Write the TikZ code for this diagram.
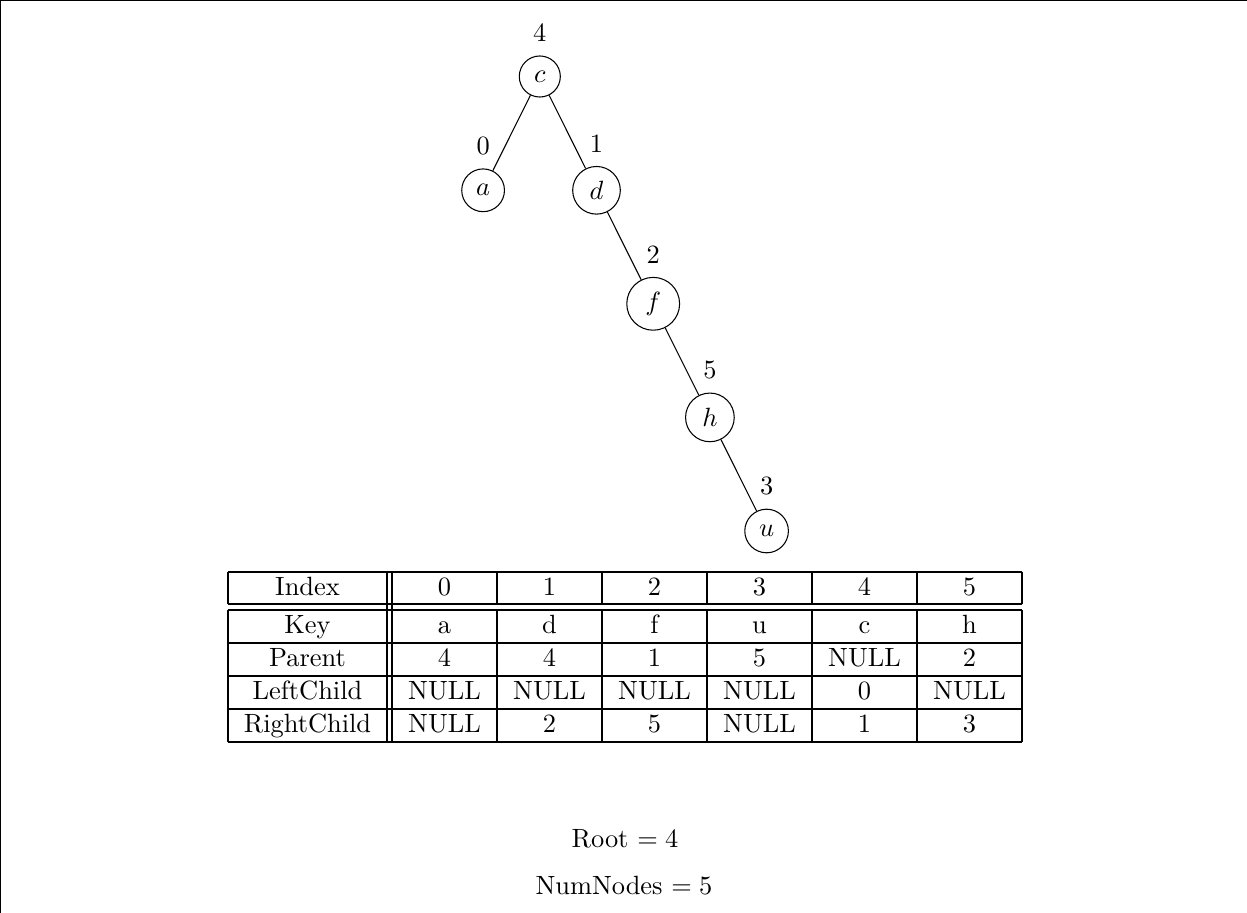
\documentclass[tikz,border=0pt]{standalone}
\begin{document}
\begin{tikzpicture}[x=0.3788pt,y=-0.3788pt,
  treenode/.style={draw,circle},
  idx/.style={label={[label distance=1.7pt]above:#1}},
  cell/.style={anchor=base,inner sep=0pt},
  edge/.style={line width=0.4pt},
  rule/.style={line width=0.4pt}]
\useasboundingbox (0,0) rectangle (1247,913);
\coordinate (bl) at (0,913);
\coordinate (tl) at (0,0);
\coordinate (tr) at (1247,0);
\draw[line width=0.8pt] (bl) -- (tl) -- (tr);

% the tree, each node tagged with its array index
\node[treenode,idx=4] (c) at (539.8,76.5) {$c$};
\node[treenode,idx=0] (a) at (483.1,190.3) {$a$};
\node[treenode,idx=1] (d) at (596.5,190.3) {$d$};
\node[treenode,idx=2] (f) at (653.2,303.8) {$f$};
\node[treenode,idx=5] (h) at (709.9,417.4) {$h$};
\node[treenode,idx=3] (u) at (766.6,531.0) {$u$};
\draw[edge] (c) -- (a);
\draw[edge] (c) -- (d);
\draw[edge] (d) -- (f);
\draw[edge] (f) -- (h);
\draw[edge] (h) -- (u);

% array layout of the tree
\foreach \yy in {572,604,610,643,676,709,742}
  \draw[rule] (228,\yy) -- (1022,\yy);
\foreach \xx in {228,497,602,707,812,917,1022} {
  \draw[rule] (\xx,572) -- (\xx,604);
  \draw[rule] (\xx,610) -- (\xx,742);
}
\draw[rule] (387,572) -- (387,742);
\draw[rule] (392,572) -- (392,742);

\foreach \lab/\yb/\r in {Index/595/0,Key/633.5/1,Parent/666.5/2,LeftChild/699.5/3,RightChild/732.5/4}
  \node[cell] (h\r) at (307.5,\yb) {\lab};

\foreach \txt [count=\i from 0] in {0,1,2,3,4,5}
  \node[cell] (t0-\i) at (444.5+105*\i,595) {\txt};
\foreach \txt [count=\i from 0] in {a,d,f,u,c,h}
  \node[cell] (t1-\i) at (444.5+105*\i,633.5) {\txt};
\foreach \txt [count=\i from 0] in {4,4,1,5,NULL,2}
  \node[cell] (t2-\i) at (444.5+105*\i,666.5) {\txt};
\foreach \txt [count=\i from 0] in {NULL,NULL,NULL,NULL,0,NULL}
  \node[cell] (t3-\i) at (444.5+105*\i,699.5) {\txt};
\foreach \txt [count=\i from 0] in {NULL,2,5,NULL,1,3}
  \node[cell] (t4-\i) at (444.5+105*\i,732.5) {\txt};

\node[cell] (root) at (625,847) {Root $=4$};
\node[cell] (num) at (624,894) {NumNodes $=5$};
\end{tikzpicture}
\end{document}
